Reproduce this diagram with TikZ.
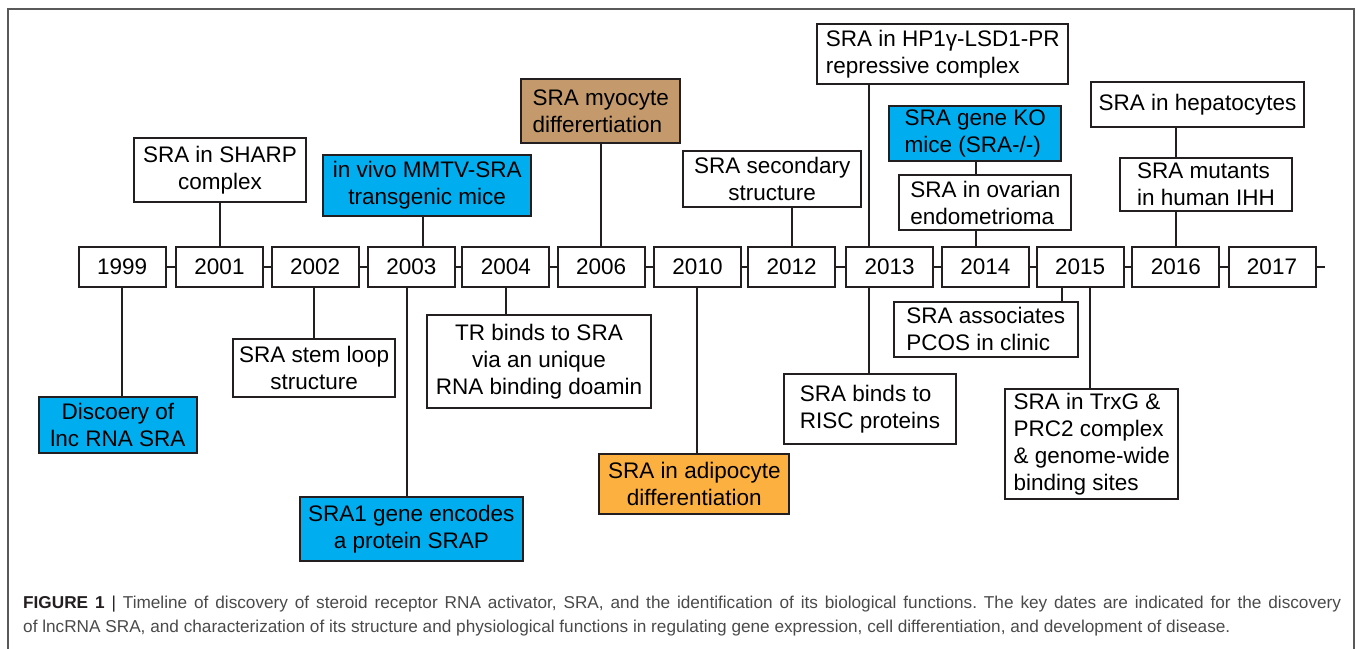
\documentclass[tikz,border=0pt]{standalone}
\usepackage{fontspec}
\setmainfont{Liberation Sans}
\definecolor{ink}{HTML}{231F20}
\definecolor{sraBlue}{HTML}{00AEEF}
\definecolor{sraBrown}{HTML}{C49A6C}
\definecolor{sraOrange}{HTML}{FBB040}
\definecolor{capgray}{HTML}{4A4A4A}
\newcommand{\boxfont}{\fontsize{22.5}{27}\selectfont}
\begin{document}
\begin{tikzpicture}[x=1pt,y=-1pt,
  box/.style={draw=ink, line width=2pt, fill=white, inner sep=0pt, font=\boxfont},
  yr/.style={box, minimum width=87pt, minimum height=40pt},
  link/.style={draw=ink, line width=2pt},
  bluebox/.style={box, fill=sraBlue},
]
\useasboundingbox (0,0) rectangle (1357,648);
% frame
\draw[gray!70!black, line width=1.2pt] (8,650) -- (8,9) -- (1354,9) -- (1354,650);

% year boxes
\node[yr] (y1999) at (122.2,267) {1999};
\node[yr] (y2001) at (219.5,267) {2001};
\node[yr] (y2002) at (315.2,267) {2002};
\node[yr] (y2003) at (411.3,267) {2003};
\node[yr] (y2004) at (505.8,267) {2004};
\node[yr] (y2006) at (601.2,267) {2006};
\node[yr] (y2010) at (697.5,267) {2010};
\node[yr] (y2012) at (791.7,267) {2012};
\node[yr] (y2013) at (889.7,267) {2013};
\node[yr] (y2014) at (985.3,267) {2014};
\node[yr] (y2015) at (1080.2,267) {2015};
\node[yr] (y2016) at (1175.8,267) {2016};
\node[yr] (y2017) at (1272,267) {2017};
\coordinate (tlend) at (1324.5,267);

% timeline dashes
\draw[link] (y1999.east) -- (y2001.west);
\draw[link] (y2001.east) -- (y2002.west);
\draw[link] (y2002.east) -- (y2003.west);
\draw[link] (y2003.east) -- (y2004.west);
\draw[link] (y2004.east) -- (y2006.west);
\draw[link] (y2006.east) -- (y2010.west);
\draw[link] (y2010.east) -- (y2012.west);
\draw[link] (y2012.east) -- (y2013.west);
\draw[link] (y2013.east) -- (y2014.west);
\draw[link] (y2014.east) -- (y2015.west);
\draw[link] (y2015.east) -- (y2016.west);
\draw[link] (y2016.east) -- (y2017.west);
\draw[link] (y2017.east) -- (tlend);

% upper boxes
\node[box, minimum width=172.3pt, minimum height=64.3pt, align=center] (sharp) at (219.9,170.2) {SRA in SHARP\\complex};
\node[bluebox, minimum width=207.7pt, minimum height=60.7pt, align=center] (mmtv) at (427.2,185.3) {in vivo MMTV-SRA\\transgenic mice};
\node[box, fill=sraBrown, minimum width=159.3pt, minimum height=63.7pt, align=left] (myo) at (600.7,111.2) {SRA myocyte\\differertiation};
\node[box, minimum width=178.3pt, minimum height=55.7pt, align=center] (second) at (772.2,178.8) {SRA secondary\\structure};
\node[box, minimum width=250.7pt, minimum height=59.7pt, align=left] (hp1) at (942.7,54.2) {SRA in HP1γ-LSD1-PR\\repressive complex};
\node[bluebox, minimum width=172.3pt, minimum height=54.7pt, align=left] (ko) at (975.2,133.3) {SRA gene KO\\mice (SRA-/-)};
\node[box, minimum width=172pt, minimum height=55pt, align=left] (ovar) at (985.3,202.5) {SRA in ovarian\\endometrioma};
\node[box, minimum width=213.7pt, minimum height=44.3pt] (hepa) at (1197.5,104.5) {SRA in hepatocytes};
\node[box, minimum width=172pt, minimum height=53.3pt, align=left] (ihh) at (1206,184.7) {SRA mutants\\in human IHH};

% lower boxes
\node[bluebox, minimum width=158.3pt, minimum height=56pt, align=center] (disc) at (117.8,425.3) {Discoery of\\lnc RNA SRA};
\node[box, minimum width=161.7pt, minimum height=58pt, align=center] (stem) at (314.2,367.7) {SRA stem loop\\structure};
\node[box, minimum width=224pt, minimum height=93.6pt, align=center] (tr) at (539,361.5) {TR binds to SRA\\via an unique\\RNA binding doamin};
\node[bluebox, minimum width=223.3pt, minimum height=63.4pt, align=center] (sra1) at (411.3,529) {SRA1 gene encodes\\a protein SRAP};
\node[box, fill=sraOrange, minimum width=190pt, minimum height=59.4pt, align=center] (adipo) at (694.3,484) {SRA in adipocyte\\differentiation};
\node[box, minimum width=172pt, minimum height=70pt, align=left] (risc) at (870,409) {SRA binds to\\RISC proteins};
\node[box, minimum width=184pt, minimum height=55pt, align=left] (pcos) at (985.7,329.2) {SRA associates\\PCOS in clinic};
\node[box, minimum width=172.9pt, minimum height=109.7pt, align=left] (trxg) at (1091.8,443.8) {SRA in TrxG \&\\PRC2 complex\\\& genome-wide\\binding sites};

% connector x positions
\coordinate (c99) at (122,0);
\coordinate (c01) at (220,0);
\coordinate (c02) at (314,0);
\coordinate (c03u) at (423.3,0);
\coordinate (c03d) at (407,0);
\coordinate (c04) at (505.7,0);
\coordinate (c06) at (601,0);
\coordinate (c10) at (697.3,0);
\coordinate (c12) at (791.7,0);
\coordinate (c13) at (868.7,0);
\coordinate (c14) at (975.7,0);
\coordinate (c15a) at (1061.7,0);
\coordinate (c15b) at (1090,0);
\coordinate (c16) at (1176,0);

% connectors
\draw[link] (y1999.south -| c99) -- (disc.north -| c99);
\draw[link] (sharp.south -| c01) -- (y2001.north -| c01);
\draw[link] (y2002.south -| c02) -- (stem.north -| c02);
\draw[link] (mmtv.south -| c03u) -- (y2003.north -| c03u);
\draw[link] (y2003.south -| c03d) -- (sra1.north -| c03d);
\draw[link] (y2004.south -| c04) -- (tr.north -| c04);
\draw[link] (myo.south -| c06) -- (y2006.north -| c06);
\draw[link] (y2010.south -| c10) -- (adipo.north -| c10);
\draw[link] (second.south -| c12) -- (y2012.north -| c12);
\draw[link] (hp1.south -| c13) -- (y2013.north -| c13);
\draw[link] (y2013.south -| c13) -- (risc.north -| c13);
\draw[link] (ko.south -| c14) -- (ovar.north -| c14);
\draw[link] (ovar.south -| c14) -- (y2014.north -| c14);
\draw[link] (y2015.south -| c15a) -- (pcos.north -| c15a);
\draw[link] (y2015.south -| c15b) -- (trxg.north -| c15b);
\draw[link] (hepa.south -| c16) -- (ihh.north -| c16);
\draw[link] (ihh.south -| c16) -- (y2016.north -| c16);

% caption
\node[anchor=north west, inner sep=0pt, text width=1318pt, align=justify,
      font=\fontsize{17.2}{24}\selectfont\frenchspacing, text=capgray] (cap) at (23,596)
  {\textcolor{ink}{\textbf{FIGURE 1} |} Timeline of discovery of steroid receptor RNA activator, SRA, and the identification of its biological functions. The key dates are indicated for the discovery\linebreak of lncRNA SRA, and characterization of its structure and physiological functions in regulating gene expression, cell differentiation, and development of disease.};
\end{tikzpicture}
\end{document}
